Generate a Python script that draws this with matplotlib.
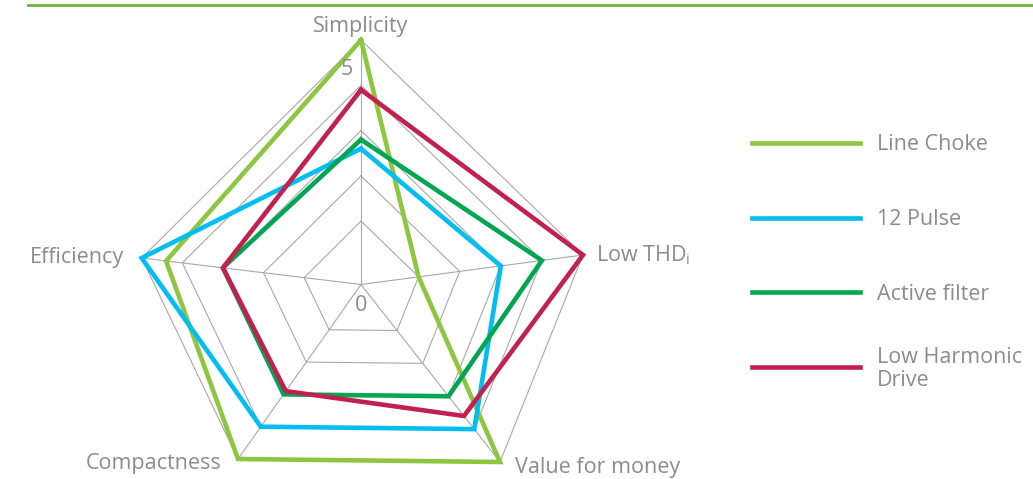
import matplotlib.pyplot as plt
from matplotlib.lines import Line2D
import numpy as np

axis_names = ['Simplicity', 'Low THD$_\\mathregular{i}$', 'Value for money',
              'Compactness', 'Efficiency']
series_names = ['Line Choke', '12 Pulse', 'Active filter', 'Low Harmonic\nDrive']
line_choke = [5, 1, 5, 5, 4.4]
pulse_12 = [2.6, 3, 4, 4, 5]
active_filter = [2.8, 4, 3, 3, 3]
low_harmonic = [3.9, 5, 3.6, 2.9, 3]
grid_levels = [1, 2, 3, 4, 5]
tick_labels = ['0', '5']

colors = ['#8dc63f', '#00bdf2', '#00a651', '#c2214f']
txt_col = '#8c8c8c'
grid_col = '#a8a8a8'

W, H = 1033, 479
cx, cy = 361, 284.5   # centre of the web, pixels from top-left

# tip of each spoke (value 5), pixels from the centre, y up
spokes = np.array([[0, 244.5], [222, 29.5], [139, -177.5],
                   [-123, -174.5], [-219.3, 26.5]])
r0, r1 = -0.4, 5.0


def to_xy(vals, close=True):
    f = (np.asarray(vals, dtype=float) - r0) / (r1 - r0)
    pts = spokes * f[:, None]
    if close:
        pts = np.vstack([pts, pts[:1]])
    return pts[:, 0], pts[:, 1]


plt.rcParams['font.family'] = ['Open Sans', 'DejaVu Sans']
fig = plt.figure(figsize=(W / 100, H / 100), dpi=100)
ax = fig.add_axes([0, 0, 1, 1])
ax.set_xlim(-cx, W - cx)
ax.set_ylim(-(H - cy), cy)
ax.axis('off')

# web
for lv in grid_levels:
    x, y = to_xy([lv] * 5)
    ax.plot(x, y, color=grid_col, lw=0.8, zorder=1)
for sx, sy in spokes:
    ax.plot([0, sx], [0, sy], color=grid_col, lw=0.8, zorder=1)

# series
for vals, c in zip([line_choke, pulse_12, active_filter, low_harmonic], colors):
    x, y = to_xy(vals)
    ax.plot(x, y, color=c, lw=3.3, solid_joinstyle='miter', zorder=3)

# spoke names
fs = 15.5
offsets = [((0, 2), 'center', 'bottom'),
           ((9, 0), 'left', 'center'),
           ((11, -4), 'left', 'center'),
           ((-12, -3), 'right', 'center'),
           ((-13, 0), 'right', 'center')]
for name, (sx, sy), (off, ha, va) in zip(axis_names, spokes, offsets):
    ax.annotate(name, (sx, sy), xytext=off, textcoords='offset points',
                ha=ha, va=va, fontsize=fs, color=txt_col)

# scale labels
ax.annotate(tick_labels[0], (0, 0), xytext=(0, -15), textcoords='offset points',
            ha='center', va='center', fontsize=fs, color=txt_col)
tx, ty = to_xy([4.34] * 5, close=False)
ax.annotate(tick_labels[1], (tx[0], ty[0]), xytext=(-10, 0), textcoords='offset points',
            ha='center', va='center', fontsize=fs, color=txt_col)

# legend
for i, (name, c) in enumerate(zip(series_names, colors)):
    yy = 1 - (143 + 74.7 * i) / H
    fig.add_artist(Line2D([752 / W, 860 / W], [yy, yy], color=c, lw=3.3))
    fig.text(877 / W, yy - 2 / H, name, ha='left', va='center', fontsize=fs,
             color=txt_col, linespacing=1.15)

# rule along the top
fig.add_artist(Line2D([28 / W, 1], [1 - 5 / H] * 2, color='#6cb33f', lw=2))

fig.savefig('out.png', dpi=100)
